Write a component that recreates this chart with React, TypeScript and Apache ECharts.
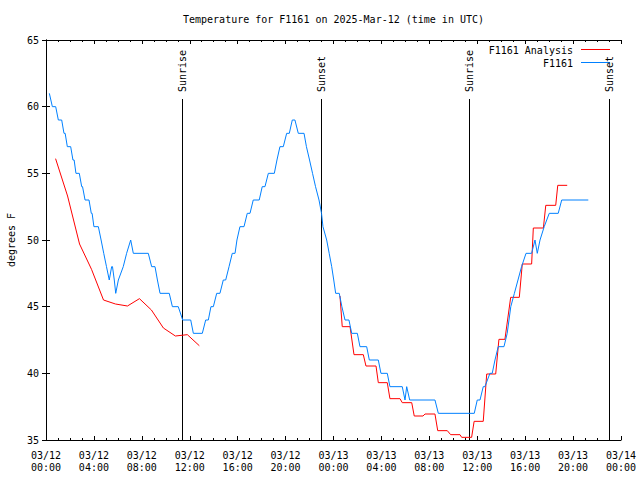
import React, { useEffect, useRef } from "react";
import * as echarts from "echarts";

const FONT = "DejaVu Sans Mono";
const TITLE = "Temperature for F1161 on 2025-Mar-12 (time in UTC)";
const Y_NAME = "degrees F";
const LEGEND_NAMES = ["F1161 Analysis", "F1161"];
const COLORS = ["#ff0000", "#0080ff"];

const X_MIN = 0;
const X_MAX = 48;
const X_STEP = 4;
const X_TICK_LABELS = [
  "03/12\n00:00", "03/12\n04:00", "03/12\n08:00", "03/12\n12:00", "03/12\n16:00",
  "03/12\n20:00", "03/13\n00:00", "03/13\n04:00", "03/13\n08:00", "03/13\n12:00",
  "03/13\n16:00", "03/13\n20:00", "03/14\n00:00",
];
const Y_MIN = 35;
const Y_MAX = 65;
const Y_STEP = 5;

// hours since 03/12 00:00 UTC
const SUN_HOURS = [11.37, 23.0, 35.35, 47.02];
const SUN_LABELS = ["Sunrise", "Sunset", "Sunrise", "Sunset"];

const ANALYSIS_DAY1: [number, number][] = [
  [0.8, 56.1], [1.8, 53.3], [2.8, 49.7], [3.8, 47.8], [4.8, 45.5], [5.8, 45.2],
  [6.8, 45.05], [7.8, 45.6], [8.8, 44.75], [9.8, 43.4], [10.8, 42.8], [11.8, 42.9],
  [12.8, 42.07],
];

const ANALYSIS_DAY2: [number, number][] = [
  [24.54, 45.8], [24.73, 43.5], [25.38, 43.5], [25.71, 41.4], [26.49, 41.4],
  [26.71, 40.55], [27.55, 40.55], [27.74, 39.3], [28.49, 39.3], [28.71, 38.1],
  [29.55, 38.1], [29.74, 37.8], [30.53, 37.8], [30.74, 36.8], [31.47, 36.8],
  [31.64, 36.95], [32.47, 36.95], [32.7, 35.7], [33.5, 35.7], [33.78, 35.4],
  [34.56, 35.4], [34.7, 35.2], [35.53, 35.2], [35.74, 36.4], [36.5, 36.4],
  [36.79, 39.95], [37.54, 39.95], [37.81, 42.55], [38.31, 42.55], [38.79, 45.7],
  [39.51, 45.7], [39.76, 48.2], [40.54, 48.2], [40.68, 50.9], [41.52, 50.9],
  [41.72, 52.6], [42.55, 52.6], [42.72, 54.1], [43.51, 54.1],
];

const OBSERVED: [number, number][] = [
  [0.28, 61], [0.53, 60], [0.81, 60], [1.03, 59], [1.31, 59], [1.5, 58], [1.6, 58],
  [1.78, 57], [2.06, 57], [2.25, 56], [2.35, 56], [2.5, 55], [2.78, 55], [2.98, 54],
  [3.05, 54], [3.26, 53], [3.59, 53], [3.78, 52], [3.85, 52], [4.0, 51], [4.37, 51],
  [4.6, 50], [4.82, 49], [5.05, 48], [5.28, 47], [5.48, 48], [5.55, 48], [5.7, 47],
  [5.82, 46], [6.04, 47], [6.45, 48], [6.73, 49], [7.07, 50], [7.29, 49], [8.54, 49],
  [8.82, 48], [9.1, 48], [9.3, 47], [9.52, 46], [10.29, 46], [10.55, 45], [11.04, 45],
  [11.41, 44], [12.08, 44], [12.3, 43], [13.05, 43], [13.33, 44], [13.55, 44],
  [13.77, 45], [13.97, 45], [14.25, 46], [14.52, 46], [14.8, 47], [15.0, 47],
  [15.28, 48], [15.55, 49], [15.78, 49], [15.94, 50], [16.19, 51], [16.53, 51],
  [16.8, 52], [17.03, 52], [17.3, 53], [17.8, 53], [18.05, 54], [18.28, 54],
  [18.56, 55], [19.06, 55], [19.28, 56], [19.53, 57], [19.81, 57], [20.09, 58],
  [20.31, 58], [20.56, 59], [20.78, 59], [21.06, 58], [21.54, 58], [21.74, 57],
  [22.0, 56], [22.25, 55], [22.5, 54], [22.79, 53], [23.0, 52], [23.12, 51],
  [23.43, 50], [23.64, 49], [23.85, 48], [24.02, 47], [24.18, 46], [24.48, 46],
  [24.7, 45], [24.96, 44], [25.29, 44], [25.52, 43], [25.99, 43], [26.21, 42],
  [26.77, 42], [26.99, 41], [27.74, 41], [27.96, 40], [28.49, 40], [28.71, 39],
  [29.74, 39], [29.97, 38], [30.11, 39], [30.36, 38], [32.47, 38], [32.75, 37],
  [35.75, 37], [36.0, 38], [36.23, 38], [36.5, 39], [36.64, 39], [37.06, 40],
  [37.25, 40], [37.48, 41], [37.75, 42], [38.23, 42], [38.5, 43], [38.65, 44],
  [38.8, 45], [39.1, 46], [39.4, 47], [39.7, 48], [40.07, 49], [40.54, 49],
  [40.82, 50], [41.01, 49], [41.24, 50], [41.59, 51], [42.01, 52], [42.76, 52],
  [43.05, 53], [45.27, 53],
];

const textStyleBase = { fontFamily: FONT, fontSize: 10, color: "#000" };

function xAxisDef(position: "bottom" | "top", showLabels: boolean) {
  return {
    type: "value",
    position,
    min: X_MIN,
    max: X_MAX,
    interval: X_STEP,
    axisLine: { show: true, lineStyle: { color: "#000", width: 1 } },
    axisTick: { show: true, inside: true, length: 4, lineStyle: { color: "#000" } },
    minorTick: { show: true, splitNumber: 4, length: 2, lineStyle: { color: "#000" } },
    splitLine: { show: false },
    minorSplitLine: { show: false },
    axisLabel: {
      show: showLabels,
      ...textStyleBase,
      margin: 9,
      lineHeight: 12,
      formatter: (v: number) => X_TICK_LABELS[Math.round((v - X_MIN) / X_STEP)] ?? "",
    },
  };
}

function yAxisDef(position: "left" | "right", showLabels: boolean) {
  return {
    type: "value",
    position,
    min: Y_MIN,
    max: Y_MAX,
    interval: Y_STEP,
    name: showLabels ? Y_NAME : "",
    nameLocation: "middle",
    nameGap: 30,
    nameTextStyle: { ...textStyleBase },
    axisLine: { show: true, lineStyle: { color: "#000", width: 1 } },
    axisTick: { show: true, inside: true, length: 4, lineStyle: { color: "#000" } },
    splitLine: { show: false },
    axisLabel: { show: showLabels, ...textStyleBase, margin: 7 },
  };
}

export default function App() {
  const ref = useRef<HTMLDivElement>(null);

  useEffect(() => {
    if (!ref.current) return;
    const chart = echarts.init(ref.current, undefined, { renderer: "svg" });

    const legendX = 573;
    const legendY = [50, 63];

    chart.setOption({
      animation: false,
      backgroundColor: "#fff",
      grid: {
        left: 46,
        right: 19,
        top: 40,
        bottom: 40,
        containLabel: false,
        outerBoundsMode: "none",
      },
      xAxis: [xAxisDef("bottom", true), xAxisDef("top", false)],
      yAxis: [yAxisDef("left", true), yAxisDef("right", false)],
      graphic: [
        {
          type: "text",
          x: 333.5,
          y: 19,
          style: {
            text: TITLE,
            font: `10px "${FONT}"`,
            fill: "#000",
            textAlign: "center",
            textVerticalAlign: "middle",
          },
        },
        ...LEGEND_NAMES.map((n, i) => ({
          type: "text",
          x: legendX,
          y: legendY[i],
          style: {
            text: n,
            font: `10px "${FONT}"`,
            fill: "#000",
            textAlign: "right",
            textVerticalAlign: "middle",
          },
        })),
        ...LEGEND_NAMES.map((n, i) => ({
          type: "line",
          shape: { x1: 581, y1: legendY[i] - 0.5, x2: 610, y2: legendY[i] - 0.5 },
          style: { stroke: COLORS[i], lineWidth: 1 },
        })),
      ],
      series: [
        {
          type: "custom",
          xAxisIndex: 0,
          yAxisIndex: 0,
          silent: true,
          data: SUN_HOURS.map((h) => [h, Y_MIN]),
          encode: { x: 0, y: 1 },
          renderItem: (params: any, api: any) => {
            const h = api.value(0);
            const pBottom = api.coord([h, Y_MIN]);
            const pTop = api.coord([h, Y_MAX]);
            const x = Math.floor(pBottom[0]) + 0.5;
            return {
              type: "group",
              children: [
                {
                  type: "line",
                  shape: { x1: x, y1: pBottom[1], x2: x, y2: pTop[1] + 59 },
                  style: { stroke: "#000", lineWidth: 1 },
                },
                {
                  type: "text",
                  x: x,
                  y: pTop[1] + 52,
                  rotation: Math.PI / 2,
                  style: {
                    text: SUN_LABELS[params.dataIndex],
                    font: `10px "${FONT}"`,
                    fill: "#000",
                    textAlign: "left",
                    textVerticalAlign: "middle",
                  },
                },
              ],
            };
          },
        },
        {
          name: LEGEND_NAMES[0],
          type: "line",
          data: ANALYSIS_DAY1,
          showSymbol: false,
          lineStyle: { color: COLORS[0], width: 1 },
          itemStyle: { color: COLORS[0] },
        },
        {
          name: LEGEND_NAMES[0],
          type: "line",
          data: ANALYSIS_DAY2,
          showSymbol: false,
          lineStyle: { color: COLORS[0], width: 1 },
          itemStyle: { color: COLORS[0] },
        },
        {
          name: LEGEND_NAMES[1],
          type: "line",
          data: OBSERVED,
          showSymbol: false,
          lineStyle: { color: COLORS[1], width: 1 },
          itemStyle: { color: COLORS[1] },
        },
      ],
    });

    return () => chart.dispose();
  }, []);

  return (
    <div
      ref={ref}
      style={{ position: "fixed", left: 0, top: 0, width: 640, height: 480, background: "#fff" }}
    />
  );
}
